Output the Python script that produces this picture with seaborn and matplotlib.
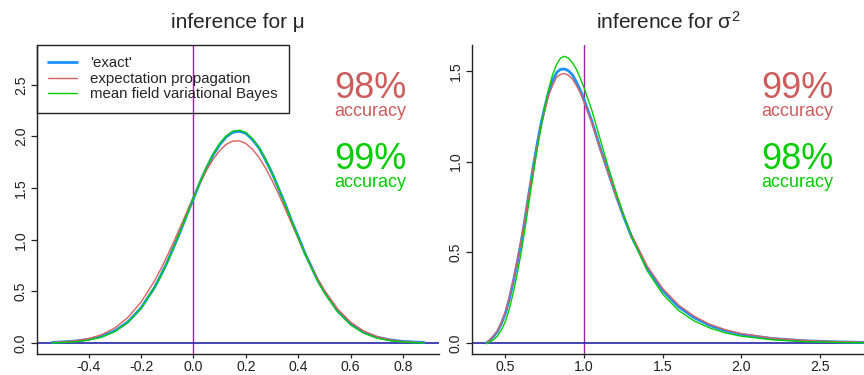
import numpy as np
import pandas as pd
import matplotlib
matplotlib.use('Agg')
import matplotlib.pyplot as plt
import seaborn as sns

# posterior densities for mu
mu_x = [-0.54, -0.50, -0.45, -0.40, -0.35, -0.30, -0.25, -0.20, -0.15, -0.125, -0.10,
        -0.075, -0.05, -0.025, 0.00, 0.025, 0.05, 0.075, 0.10, 0.125, 0.15, 0.175, 0.20,
        0.225, 0.25, 0.275, 0.30, 0.325, 0.35, 0.375, 0.40, 0.425, 0.45, 0.475, 0.50,
        0.55, 0.60, 0.65, 0.70, 0.75, 0.80, 0.85, 0.88]
mu_exact = [0.006, 0.011, 0.020, 0.036, 0.065, 0.118, 0.205, 0.340, 0.532, 0.653, 0.783,
            0.931, 1.080, 1.243, 1.400, 1.555, 1.695, 1.821, 1.920, 1.996, 2.040, 2.050, 2.030,
            1.970, 1.890, 1.773, 1.645, 1.495, 1.345, 1.180, 1.030, 0.872, 0.738, 0.604, 0.495,
            0.313, 0.186, 0.105, 0.057, 0.031, 0.016, 0.009, 0.006]
mu_ep = [0.006, 0.011, 0.022, 0.043, 0.081, 0.146, 0.248, 0.396, 0.595, 0.714, 0.843,
         0.981, 1.125, 1.270, 1.413, 1.549, 1.672, 1.778, 1.863, 1.923, 1.955, 1.958, 1.931,
         1.877, 1.797, 1.695, 1.574, 1.441, 1.299, 1.154, 1.010, 0.870, 0.739, 0.618, 0.509,
         0.330, 0.202, 0.116, 0.063, 0.032, 0.015, 0.007, 0.004]
mu_mfvb = [0.002, 0.005, 0.012, 0.028, 0.058, 0.111, 0.200, 0.337, 0.532, 0.646, 0.786,
           0.926, 1.088, 1.241, 1.408, 1.557, 1.705, 1.827, 1.932, 2.005, 2.050, 2.060, 2.037,
           1.979, 1.893, 1.779, 1.645, 1.496, 1.340, 1.177, 1.022, 0.866, 0.728, 0.596, 0.485,
           0.302, 0.175, 0.095, 0.048, 0.023, 0.010, 0.004, 0.002]

# posterior densities for sigma^2
s2_x = [0.38, 0.40, 0.425, 0.45, 0.475, 0.50, 0.525, 0.55, 0.575, 0.60, 0.625, 0.65,
        0.675, 0.70, 0.725, 0.75, 0.775, 0.80, 0.825, 0.85, 0.875, 0.90, 0.925, 0.95,
        0.975, 1.00, 1.05, 1.10, 1.15, 1.20, 1.25, 1.30, 1.40, 1.50, 1.60, 1.70, 1.80,
        1.90, 2.00, 2.20, 2.40, 2.60, 2.78]
s2_exact = [0.0, 0.015, 0.037, 0.065, 0.11, 0.165, 0.245, 0.34, 0.445, 0.56, 0.69, 0.83,
            0.965, 1.09, 1.205, 1.30, 1.385, 1.445, 1.49, 1.508, 1.51, 1.50, 1.478, 1.44,
            1.395, 1.34, 1.22, 1.08, 0.95, 0.82, 0.70, 0.59, 0.415, 0.29, 0.20, 0.14, 0.097,
            0.068, 0.048, 0.025, 0.013, 0.007, 0.004]
s2_ep = [0.0, 0.018, 0.041, 0.070, 0.117, 0.175, 0.256, 0.35, 0.455, 0.57, 0.695, 0.83,
         0.96, 1.08, 1.19, 1.28, 1.365, 1.42, 1.465, 1.48, 1.485, 1.475, 1.455, 1.42,
         1.38, 1.325, 1.21, 1.075, 0.945, 0.82, 0.705, 0.60, 0.425, 0.30, 0.21, 0.148, 0.103,
         0.073, 0.052, 0.027, 0.015, 0.008, 0.005]
s2_mfvb = [0.0, 0.006, 0.019, 0.040, 0.074, 0.120, 0.19, 0.28, 0.385, 0.50, 0.635, 0.78,
           0.92, 1.06, 1.185, 1.30, 1.40, 1.48, 1.535, 1.57, 1.58, 1.57, 1.545, 1.51,
           1.46, 1.405, 1.28, 1.13, 0.98, 0.84, 0.71, 0.59, 0.40, 0.27, 0.18, 0.122, 0.083,
           0.056, 0.038, 0.018, 0.008, 0.004, 0.002]

methods = ["'exact'", "expectation propagation", "mean field variational Bayes"]
colors = ['#1E90FF', '#D9605F', '#00CD00']
widths = [2.0, 1.0, 1.0]

mu_acc = ['98%', '99%']
s2_acc = ['99%', '98%']

sns.set_style('ticks')
plt.rcParams['font.family'] = ['Liberation Sans', 'DejaVu Sans']
plt.rcParams['mathtext.fontset'] = 'custom'
plt.rcParams['mathtext.rm'] = 'Liberation Sans'
plt.rcParams['mathtext.it'] = 'Liberation Sans'


def panel(ax, x, ys, truth, xlim, ylim, xticks, yticks, title, acc, legend):
    for name, y, c, w in zip(methods, ys, colors, widths):
        df = pd.DataFrame({'x': x, 'density': y})
        sns.lineplot(data=df, x='x', y='density', color=c, linewidth=w,
                     label=name if legend else None, estimator=None, ax=ax)
    ax.axvline(truth, color='#A020A8', lw=1.0, zorder=1)
    ax.axhline(0, color='#2424A8', lw=1.2, zorder=1)
    ax.set_xlim(*xlim)
    ax.set_ylim(*ylim)
    ax.set_xticks(xticks)
    ax.set_yticks(yticks)
    ax.set_xticklabels([f'{v:.1f}' for v in xticks])
    ax.set_yticklabels([f'{v:.1f}' for v in yticks], rotation=90, va='center')
    ax.tick_params(axis='both', labelsize=10.2, length=3, width=0.9, pad=1.5,
                   colors='#222222')
    ax.tick_params(axis='y', length=4, pad=2.5)
    for s in ['top', 'right']:
        ax.spines[s].set_visible(False)
    for s in ['left', 'bottom']:
        ax.spines[s].set_color('#222222')
        ax.spines[s].set_linewidth(1.0)
    ax.set_xlabel('')
    ax.set_ylabel('')
    ax.set_title(title, fontsize=15, pad=12)
    ax.text(0.83, 0.828, acc[0], transform=ax.transAxes, ha='center', va='baseline',
            fontsize=26, color='#CD5C5C')
    ax.text(0.83, 0.770, 'accuracy', transform=ax.transAxes, ha='center', va='baseline',
            fontsize=13, color='#CD5C5C')
    ax.text(0.83, 0.600, acc[1], transform=ax.transAxes, ha='center', va='baseline',
            fontsize=26, color='#00CD00')
    ax.text(0.83, 0.542, 'accuracy', transform=ax.transAxes, ha='center', va='baseline',
            fontsize=13, color='#00CD00')
    if legend:
        leg = ax.legend(loc='upper left', bbox_to_anchor=(0, 1), borderaxespad=0,
                        fontsize=10.8, frameon=True, fancybox=False, edgecolor='#222222',
                        facecolor='none', framealpha=1, handlelength=1.9,
                        handletextpad=0.9, labelspacing=0.1, borderpad=0.75)
        leg.get_frame().set_linewidth(1.0)
    elif ax.get_legend() is not None:
        ax.get_legend().remove()


fig = plt.figure(figsize=(8.64, 3.75), dpi=100)
ax1 = fig.add_axes([37 / 864, 21 / 375, 402 / 864, 309 / 375])
ax2 = fig.add_axes([472 / 864, 21 / 375, 392 / 864, 309 / 375])

panel(ax1, mu_x, [mu_exact, mu_ep, mu_mfvb], 0.0, (-0.597, 0.937), (-0.106, 2.885),
      [-0.4, -0.2, 0.0, 0.2, 0.4, 0.6, 0.8], [0.0, 0.5, 1.0, 1.5, 2.0, 2.5],
      'inference for μ', mu_acc, True)
panel(ax2, s2_x, [s2_exact, s2_ep, s2_mfvb], 1.0, (0.287, 2.78), (-0.06, 1.642),
      [0.5, 1.0, 1.5, 2.0, 2.5], [0.0, 0.5, 1.0, 1.5],
      r'inference for $\sigma^2$', s2_acc, False)

fig.savefig('out.png', dpi=100)
